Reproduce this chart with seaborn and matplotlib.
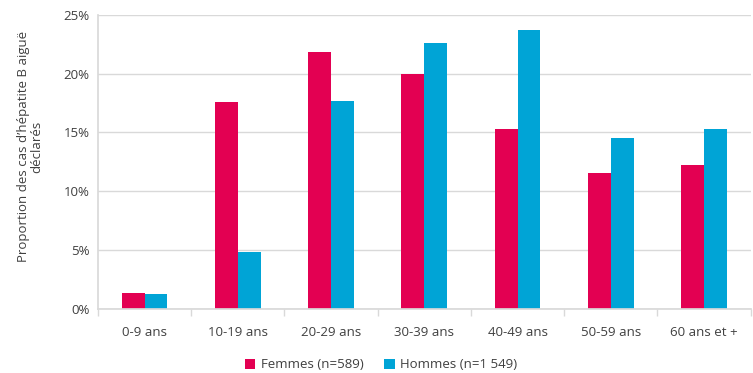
import pandas as pd
import matplotlib.pyplot as plt
import seaborn as sns
from matplotlib.ticker import PercentFormatter

# Data
age_groups = ['0-9 ans', '10-19 ans', '20-29 ans', '30-39 ans', '40-49 ans', '50-59 ans', '60 ans et +']
femmes = [1.35, 17.6, 21.85, 20.0, 15.3, 11.55, 12.25]
hommes = [1.3, 4.85, 17.7, 22.6, 23.7, 14.5, 15.3]
series_names = ['Femmes (n=589)', 'Hommes (n=1 549)']

df = pd.DataFrame({
    'age': age_groups * 2,
    'value': femmes + hommes,
    'sexe': [series_names[0]] * len(age_groups) + [series_names[1]] * len(age_groups),
})

sns.set_theme(style='white')
plt.rcParams['font.family'] = ['Open Sans', 'DejaVu Sans']

fig = plt.figure(figsize=(7.53, 3.73), dpi=100)
ax = fig.add_axes([0.130, 0.172, 0.867, 0.788])

palette = {series_names[0]: '#E30052', series_names[1]: '#00A4D6'}
sns.barplot(data=df, x='age', y='value', hue='sexe', palette=palette,
            width=0.49, saturation=1, linewidth=0, ax=ax, legend=True)

ax.set_ylim(0, 25)
ax.set_yticks(range(0, 26, 5))
ax.yaxis.set_major_formatter(PercentFormatter(decimals=0))
ax.yaxis.grid(True, color='#D9D9D9', linewidth=1)
ax.set_axisbelow(True)
ax.set_xlim(-0.5, len(age_groups) - 0.5)

for side in ['top', 'right']:
    ax.spines[side].set_visible(False)
ax.spines['left'].set_color('#D9D9D9')
ax.spines['bottom'].set_color('#D9D9D9')

# tick marks at category boundaries
ax.set_xticks([i - 0.5 for i in range(len(age_groups) + 1)], minor=True)
ax.tick_params(axis='x', which='minor', length=5, color='#D9D9D9', bottom=True)
ax.tick_params(axis='x', which='major', length=0, labelsize=9.5, colors='#404040', pad=12)
ax.tick_params(axis='y', length=0, labelsize=9.5, colors='#404040', pad=6)

ax.set_xlabel('')
ax.set_ylabel('Proportion des cas d\u2019hépatite B aiguë\ndéclarés', fontsize=9.5, color='#404040',
              linespacing=1.05)
ax.yaxis.set_label_coords(-0.083, 0.551)

ax.legend(loc='center', bbox_to_anchor=(381 / 753, 1 - 365 / 373), bbox_transform=fig.transFigure,
          ncol=2, frameon=False, fontsize=9.5, handlelength=0.8, handleheight=0.8,
          handletextpad=0.4, columnspacing=1.6, labelcolor='#404040')

fig.savefig('out.png', dpi=100)
